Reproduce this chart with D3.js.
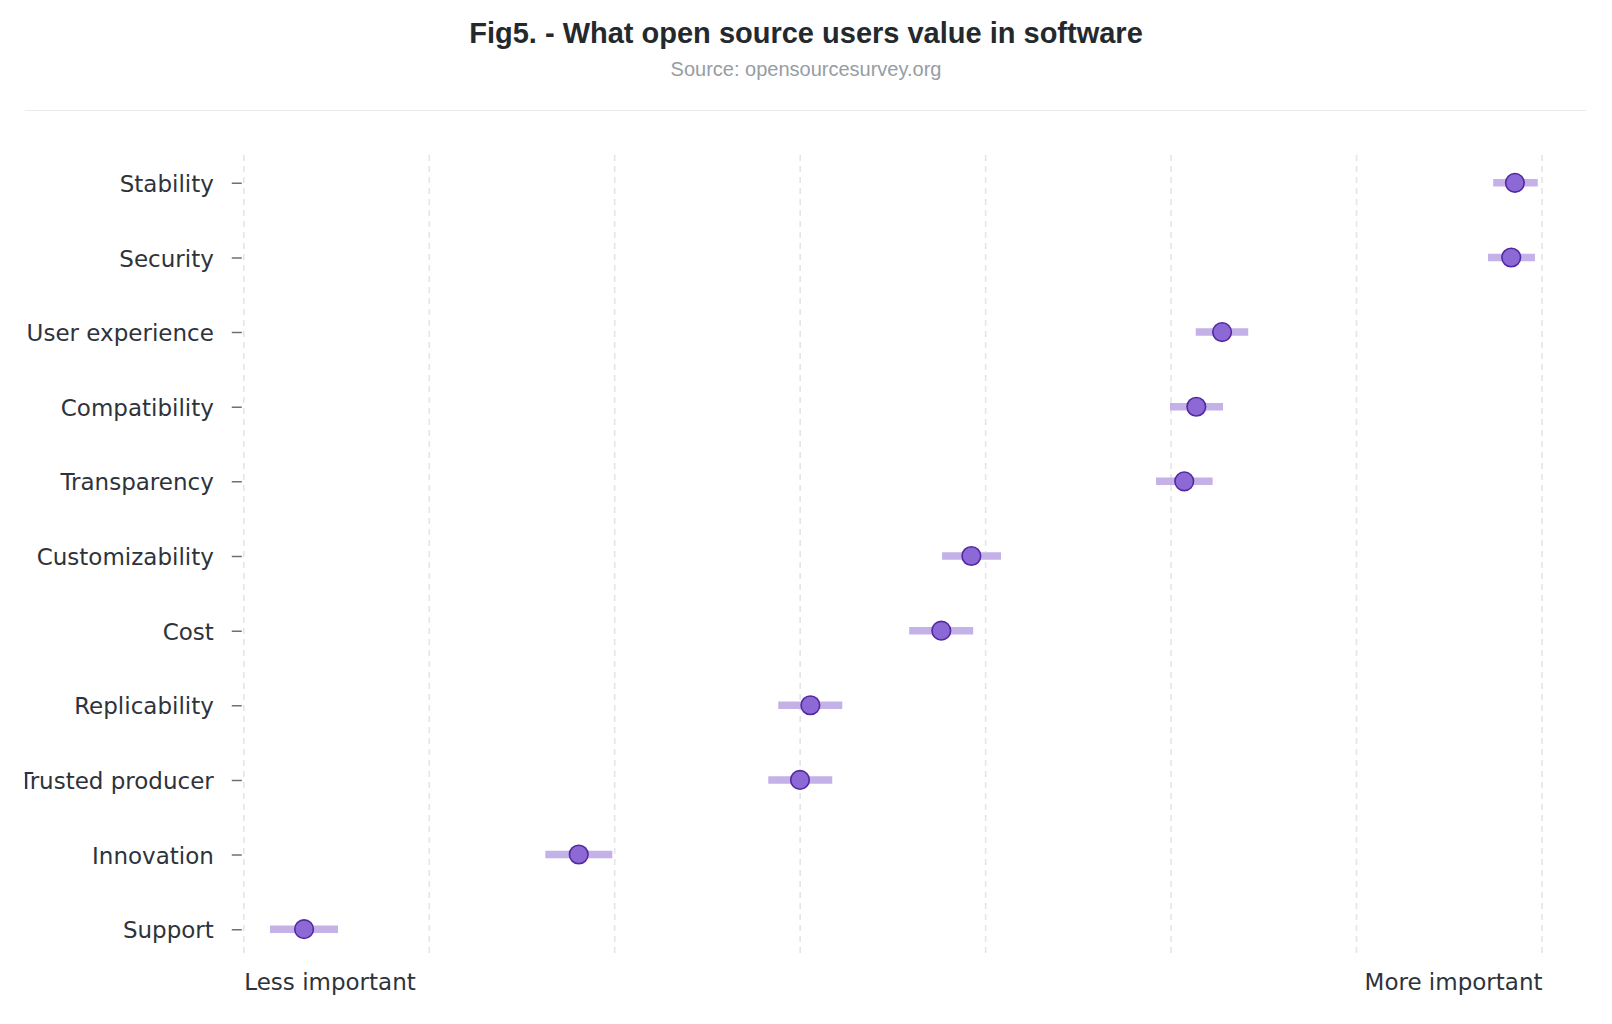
<!DOCTYPE html>
<html>
<head>
<meta charset="utf-8">
<script src="https://cdn.jsdelivr.net/npm/d3@7"></script>
<style>
  html, body { margin: 0; padding: 0; background: #ffffff; }
  svg { display: block; }
</style>
</head>
<body>
<svg id="chart" width="1612" height="1024"></svg>
<script>
// ---- Data ----
const categories = ["Stability", "Security", "User experience", "Compatibility", "Transparency",
  "Customizability", "Cost", "Replicability", "Trusted producer", "Innovation", "Support"];
const meanValues = [6.854, 6.834, 5.275, 5.136, 5.071, 3.923, 3.761, 3.055, 2.999, 1.806, 0.325];
const lowValues  = [6.737, 6.709, 5.133, 4.994, 4.919, 3.765, 3.588, 2.882, 2.828, 1.626, 0.141];
const highValues = [6.977, 6.962, 5.416, 5.280, 5.224, 4.083, 3.933, 3.227, 3.173, 1.987, 0.508];
const xTicks = [0, 1, 2, 3, 4, 5, 6, 7];
const xTickLabels = {0: "Less important", 7: "More important"};
const titleText = "Fig5. - What open source users value in software";
const subtitleText = "Source: opensourcesurvey.org";

const rows = categories.map((c, i) => ({ cat: c, mean: meanValues[i], lo: lowValues[i], hi: highValues[i] }));

const svg = d3.select("#chart");

// Header
svg.append("text")
  .attr("x", 806).attr("y", 42.5)
  .attr("text-anchor", "middle")
  .style("font-family", "'Liberation Sans', Arial, Helvetica, sans-serif")
  .style("font-weight", "bold")
  .style("font-size", "29px")
  .style("fill", "#24292e")
  .text(titleText);

svg.append("text")
  .attr("x", 806).attr("y", 75.5)
  .attr("text-anchor", "middle")
  .style("font-family", "'Liberation Sans', Arial, Helvetica, sans-serif")
  .style("font-size", "20px")
  .style("fill", "#959da5")
  .text(subtitleText);

svg.append("line")
  .attr("x1", 24.7).attr("x2", 1586)
  .attr("y1", 110.5).attr("y2", 110.5)
  .style("stroke", "#e9ebee").style("stroke-width", 1.2);

// Chart area clip (image region)
svg.append("defs").append("clipPath").attr("id", "imgclip")
  .append("rect").attr("x", 24.7).attr("y", 112).attr("width", 1561).attr("height", 912);

const g = svg.append("g").attr("clip-path", "url(#imgclip)");

const x = d3.scaleLinear().domain([0, 7]).range([243.8, 1542]);
const y = d3.scalePoint().domain(categories).range([156, 956]).padding(0.36);
const gridTop = 155, gridBottom = 955;

const labelFont = "'DejaVu Sans', Verdana, sans-serif";
const textColor = "#2e333b";

// Vertical dashed gridlines
g.append("g").selectAll("line")
  .data(xTicks).join("line")
  .attr("x1", d => x(d)).attr("x2", d => x(d))
  .attr("y1", gridTop).attr("y2", gridBottom)
  .style("stroke", "#e3e5ea")
  .style("stroke-width", 1.6)
  .style("stroke-dasharray", "6,5");

// Y axis: ticks + labels
const yAxis = d3.axisLeft(y).tickSize(10).tickPadding(18);
const yg = g.append("g").attr("transform", `translate(${x(0) - 2},0)`).call(yAxis);
yg.select(".domain").remove();
yg.selectAll(".tick line").style("stroke", "#6b7079").style("stroke-width", 1.5);
yg.selectAll(".tick text")
  .style("font-family", labelFont)
  .style("font-size", "23px")
  .style("fill", textColor)
  .attr("dy", "0.37em");

// X axis labels (only extremes)
const xAxis = d3.axisBottom(x).tickValues([0, 7]).tickSize(0).tickPadding(0)
  .tickFormat(d => xTickLabels[d]);
const xg = g.append("g").attr("transform", `translate(0,${gridBottom})`).call(xAxis);
xg.select(".domain").remove();
xg.selectAll(".tick text")
  .style("font-family", labelFont)
  .style("font-size", "23px")
  .style("fill", textColor)
  .attr("y", 0).attr("dy", 35)
  .attr("text-anchor", d => d === 0 ? "start" : "end");

// Error bars
g.append("g").selectAll("line")
  .data(rows).join("line")
  .attr("x1", d => x(d.lo)).attr("x2", d => x(d.hi))
  .attr("y1", d => y(d.cat)).attr("y2", d => y(d.cat))
  .style("stroke", "#c3b1e8")
  .style("stroke-width", 7.5);

// Points
g.append("g").selectAll("circle")
  .data(rows).join("circle")
  .attr("cx", d => x(d.mean))
  .attr("cy", d => y(d.cat))
  .attr("r", 9.3)
  .style("fill", "#8d69d5")
  .style("stroke", "#5329a3")
  .style("stroke-width", 1.6);
</script>
</body>
</html>
